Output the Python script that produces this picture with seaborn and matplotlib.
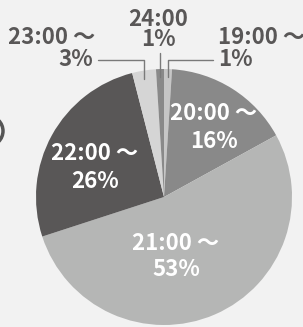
import numpy as np
import matplotlib
matplotlib.use("Agg")
import matplotlib.pyplot as plt
import seaborn as sns
from matplotlib.patches import Circle

# Data (clockwise from 12 o'clock)
labels = ["19:00 ～", "20:00 ～", "21:00 ～", "22:00 ～", "23:00 ～", "24:00"]
shares = [1, 16, 53, 26, 3, 1]
colors = ["#c6c6c6", "#898989", "#b5b6b5", "#595757", "#d5d5d5", "#898989"]

W, H = 303, 327
BG = "#f2f2f2"
TXT = "#595757"

sns.set_style("white")
plt.rcParams["font.family"] = ["Noto Sans CJK JP", "DejaVu Sans"]

fig = plt.figure(figsize=(W / 100, H / 100), dpi=100, facecolor=BG)
ax = fig.add_axes([0, 0, 1, 1])
ax.set_facecolor(BG)
ax.set_xlim(0, W)
ax.set_ylim(0, H)
ax.axis("off")

cx, cy, R = 164, H - 197, 128
wedges, _ = ax.pie(shares, colors=colors, startangle=90, counterclock=False,
                   center=(cx, cy), radius=R, frame=True,
                   wedgeprops=dict(linewidth=0))
ax.set_xlim(0, W)
ax.set_ylim(0, H)
ax.axis("off")


def P(x, y):
    return x, H - y


def mid_x(i):
    # x position on the rim at the middle of wedge i
    w = wedges[i]
    a = np.deg2rad((w.theta1 + w.theta2) / 2)
    return cx + R * np.cos(a), cy + R * np.sin(a)


fs = 16
lc = "#7a7a7a"
lw = 1.0

# 23:00 label + leader
ax.text(*P(95, 37), labels[4], ha="right", va="center", fontsize=fs,
        fontweight="bold", color=TXT)
ax.text(*P(93, 59), f"{shares[4]}%", ha="right", va="center", fontsize=fs,
        fontweight="bold", color=TXT)
x4, y4 = mid_x(4)
ax.plot([98, x4, x4], [H - 60, H - 60, y4 - 8], color=lc, lw=lw)

# 24:00 label + leader
ax.text(*P(158, 19), labels[5], ha="center", va="center", fontsize=fs,
        fontweight="bold", color=TXT)
ax.text(*P(158, 40), f"{shares[5]}%", ha="center", va="center", fontsize=fs,
        fontweight="bold", color=TXT)
x5, y5 = mid_x(5)
ax.plot([x5, x5], [H - 53, y5 - 8], color=lc, lw=lw)

# 19:00 label + leader
ax.text(*P(218, 37), labels[0], ha="left", va="center", fontsize=fs,
        fontweight="bold", color=TXT)
ax.text(*P(218, 59), f"{shares[0]}%", ha="left", va="center", fontsize=fs,
        fontweight="bold", color=TXT)
x0, y0 = mid_x(0)
ax.plot([213, x0, x0], [H - 60, H - 60, y0 - 8], color=lc, lw=lw)

# inside labels
inside = {1: (214, 113, 141), 3: (95, 154, 181), 2: (176, 243, 270)}
for i, (x, y1, y2) in inside.items():
    ax.text(*P(x, y1), labels[i], ha="center", va="center", fontsize=fs,
            fontweight="bold", color="white")
    ax.text(*P(x, y2), f"{shares[i]}%", ha="center", va="center", fontsize=fs,
            fontweight="bold", color="white")

# cropped ring at the left edge
ax.add_patch(Circle(P(-12, 131), 15, fill=False, edgecolor="#555555", lw=2.5))

fig.savefig("out.png", dpi=100, facecolor=BG)
